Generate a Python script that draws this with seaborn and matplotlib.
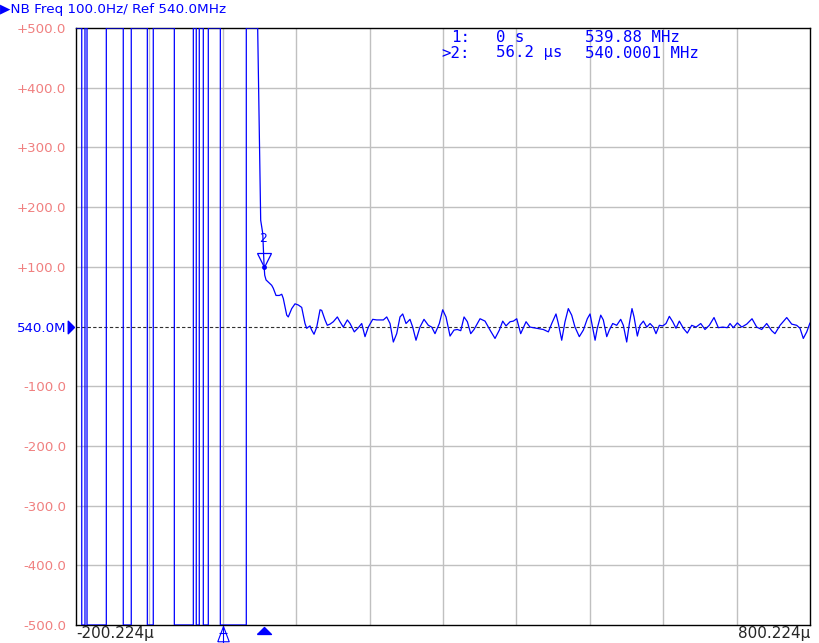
import numpy as np
import pandas as pd
import matplotlib
matplotlib.use("Agg")
import matplotlib.pyplot as plt
import matplotlib.transforms as mtransforms
import seaborn as sns

# sweep settings (time axis in microseconds, freq deviation in Hz from 540 MHz)
x_start, x_stop = -200.224, 800.224
full_scale = 500.0

# times where the off-scale trace flips between top and bottom of the screen
wrap_us = [-192.4, -188.0, -185.2, -158.9, -135.8, -124.9, -103.0, -94.9,
           -66.2, -40.3, -36.3, -32.2, -26.7, -19.9, -3.5, 31.9]
leave_top_us = 47.4

# settling part of the trace
settle_us = [51.5, 54.3, 56.2, 57.0, 58.8, 66.5, 68.7, 72.4, 76.9, 80.2, 82.3, 87.0,
             89.1, 93.8, 98.3, 102.8, 107.4, 111.9, 114.2, 118.7, 121.0, 124.2, 127.9,
             132.4, 134.7, 139.2, 142.3, 146.0, 150.5, 156.0, 159.6, 164.1, 169.6, 173.3,
             179.1, 184.6, 189.2, 193.7, 198.2, 204.2, 209.7, 218.7, 223.3, 227.8, 232.3,
             236.9, 241.4, 245.1, 249.6, 255.0, 258.7, 263.2, 268.6, 274.1, 280.0, 284.6,
             289.1, 295.0, 299.6, 304.1, 309.6, 315.0, 319.5, 324.2, 328.7, 333.2, 337.8,
             342.3, 350.5, 357.3, 364.1, 370.9, 376.8, 381.4, 385.9, 391.4, 395.9, 400.5,
             405.9, 413.2, 418.6, 427.7, 436.7, 443.6, 448.2, 454.0, 457.2, 461.8, 466.3,
             470.8, 475.4, 479.9, 485.8, 491.3, 496.7, 500.4, 507.3, 510.3, 515.0, 518.5,
             523.2, 526.7, 531.3, 536.8, 542.2, 545.8, 550.4, 554.0, 557.6, 560.4, 564.9,
             568.5, 573.1, 577.7, 582.2, 586.7, 590.3, 594.9, 599.5, 604.0, 608.5, 613.1,
             617.6, 622.1, 627.6, 633.0, 639.0, 644.9, 651.3, 657.1, 663.0, 669.4, 675.3,
             681.3, 687.5, 691.2, 695.7, 701.2, 707.2, 714.0, 721.2, 727.6, 734.4, 741.2,
             748.0, 752.5, 759.4, 768.5, 775.3, 782.1, 786.6, 791.1, 795.8, 800.2]
settle_hz = [178, 156, 100, 86, 78, 69, 64, 52, 52, 54, 47, 19,
             16, 30, 38, 36, 32, 5, -3, 1, -6, -13, -1,
             28, 27, 11, 2, 4, 8, 16, 8, -1, 11, 5,
             -9, -2, 5, -17, -1, 12, 11, 11, 16, 5, -26,
             -12, 16, 21, 5, 12, -1, -23, -1, 12, 2, -1,
             -12, 5, 28, 16, -16, -6, -5, -7, 16, 8, -12,
             -5, 13, 9, -6, -20, -6, 9, 1, 8, 9, 13,
             -12, 8, -1, -3, -5, -9, 5, 21, 5, -23, 8,
             30, 19, -1, -17, -6, 13, 21, -23, -3, 19, 11,
             -17, -6, 5, 2, 12, 2, -26, 5, 30, 16, -16,
             2, 9, -1, 5, -1, -12, 2, 1, 5, 17, 8,
             -3, 9, -3, -11, 2, -1, 5, -5, 2, 15, -2,
             -1, -2, 5, -2, 6, -1, 4, 13, -1, -5, 5,
             -7, -12, 2, 15, 4, 2, -3, -20, -9, 6]

# marker readout
mkr1_us, mkr1_text = 0.0, "539.88 MHz"
mkr2_us, mkr2_hz, mkr2_text = 56.2, 100.0, "540.0001 MHz"

# build the trace: off-scale part drawn clamped to the screen edges
level = full_scale
trace_t = [x_start]
trace_f = [level]
for w in wrap_us:
    trace_t += [w, w]
    trace_f += [level, -level]
    level = -level
trace_t += [leave_top_us]
trace_f += [level]
trace_t += settle_us
trace_f += settle_hz
df = pd.DataFrame({"t": trace_t, "f": trace_f})

blue = "#0000ff"
salmon = "#f08080"

sns.set_style("white")
fig = plt.figure(figsize=(8.19, 6.43), dpi=100)
ax = fig.add_axes([76 / 819, 1 - 625 / 643, 734 / 819, 597 / 643])

# grid
for gx in np.linspace(x_start, x_stop, 11)[1:-1]:
    ax.axvline(gx, color="#c0c0c0", lw=1.0, zorder=0)
for gy in np.arange(-400, 500, 100):
    if gy != 0:
        ax.axhline(gy, color="#c0c0c0", lw=1.0, zorder=0)
ax.axhline(0, color="#303030", lw=0.8, ls=(0, (3, 2)), zorder=1)

sns.lineplot(data=df, x="t", y="f", sort=False, estimator=None, color=blue,
             lw=0.9, ax=ax, zorder=3)

ax.set_xlim(x_start, x_stop)
ax.set_ylim(-full_scale, full_scale)
ax.set_xlabel("")
ax.set_ylabel("")

# y ticks
yt = np.arange(-500, 501, 100)
ylabels = ["540.0M" if v == 0 else f"{v:+.1f}" for v in yt]
ax.set_yticks(yt)
ax.set_yticklabels(ylabels, fontsize=9.6)
for lab, v in zip(ax.get_yticklabels(), yt):
    lab.set_color(blue if v == 0 else salmon)
ax.tick_params(axis="y", length=0, pad=7)

# x ticks only at the edges
ax.set_xticks([x_start, x_stop])
ax.set_xticklabels([f"{x_start:.3f}\u03bc", f"{x_stop:.3f}\u03bc"], fontsize=11)
xl = ax.get_xticklabels()
xl[0].set_ha("left")
xl[1].set_ha("right")
ax.tick_params(axis="x", length=0, pad=0.5)

for s in ax.spines.values():
    s.set_color("black")
    s.set_linewidth(1.0)

# header
fig.text(0.0, 1 - 9 / 643, "\u25b6NB Freq 100.0Hz/ Ref 540.0MHz", color=blue,
         fontsize=9.7, va="center", ha="left")

# marker readout
mono = "DejaVu Sans Mono"
def put(xp, yp, s, ha="left"):
    fig.text(xp / 819, 1 - yp / 643, s, color=blue, fontsize=11.3, family=mono,
             ha=ha, va="center")
put(470, 37, "1:", ha="right")
put(496, 37, f"{mkr1_us:g} s")
put(585, 37, mkr1_text)
put(470, 53, ">2:", ha="right")
put(496, 53, f"{mkr2_us} \u03bcs")
put(585, 53, mkr2_text)

# active marker on trace
up = mtransforms.offset_copy(ax.transData, fig=fig, x=0, y=5.2, units="points")
ax.plot([mkr2_us], [mkr2_hz], marker="v", ms=10, mfc="none", mec=blue, mew=0.9,
        transform=up, zorder=5, clip_on=False)
ax.plot([mkr2_us], [mkr2_hz], marker="o", ms=2.5, color=blue, zorder=5)
ax.annotate("2", (mkr2_us, mkr2_hz), xytext=(-1, 16), textcoords="offset points",
            color=blue, fontsize=9, ha="center", va="bottom")

# stimulus markers under the axis
bx = mtransforms.blended_transform_factory(ax.transData, ax.transAxes)
flat_up = [(-1, -1), (1, -1), (0, 0), (-1, -1)]
low_f = mtransforms.offset_copy(bx, fig=fig, x=0, y=-1.5, units="points")
ax.plot([mkr2_us], [0], marker=flat_up, ms=10, color=blue, transform=low_f,
        clip_on=False, zorder=5)
tall_up = [(-0.6, -1.6), (0.6, -1.6), (0, 0), (-0.6, -1.6)]
low_h = mtransforms.offset_copy(bx, fig=fig, x=0, y=-0.5, units="points")
ax.plot([mkr1_us], [0], marker=tall_up, ms=22, mfc="none", mec=blue, mew=0.8,
        transform=low_h, clip_on=False, zorder=5)
ax.plot([mkr1_us, mkr1_us], [0, -0.03], color=blue, lw=0.8, transform=bx,
        clip_on=False)
bar = mtransforms.offset_copy(bx, fig=fig, x=0, y=-6, units="points")
ax.plot([mkr1_us], [0], marker="_", ms=6, mew=0.8, color=blue, transform=bar,
        clip_on=False)

# reference level arrow on left
by = mtransforms.blended_transform_factory(ax.transAxes, ax.transData)
right_tri = [(0, 0), (-1, 1), (-1, -1), (0, 0)]
left_o = mtransforms.offset_copy(by, fig=fig, x=-1.2, y=0, units="points")
ax.plot([0], [0], marker=right_tri, ms=9, color=blue, transform=left_o,
        clip_on=False, zorder=5)

fig.savefig("out.png", dpi=100)
